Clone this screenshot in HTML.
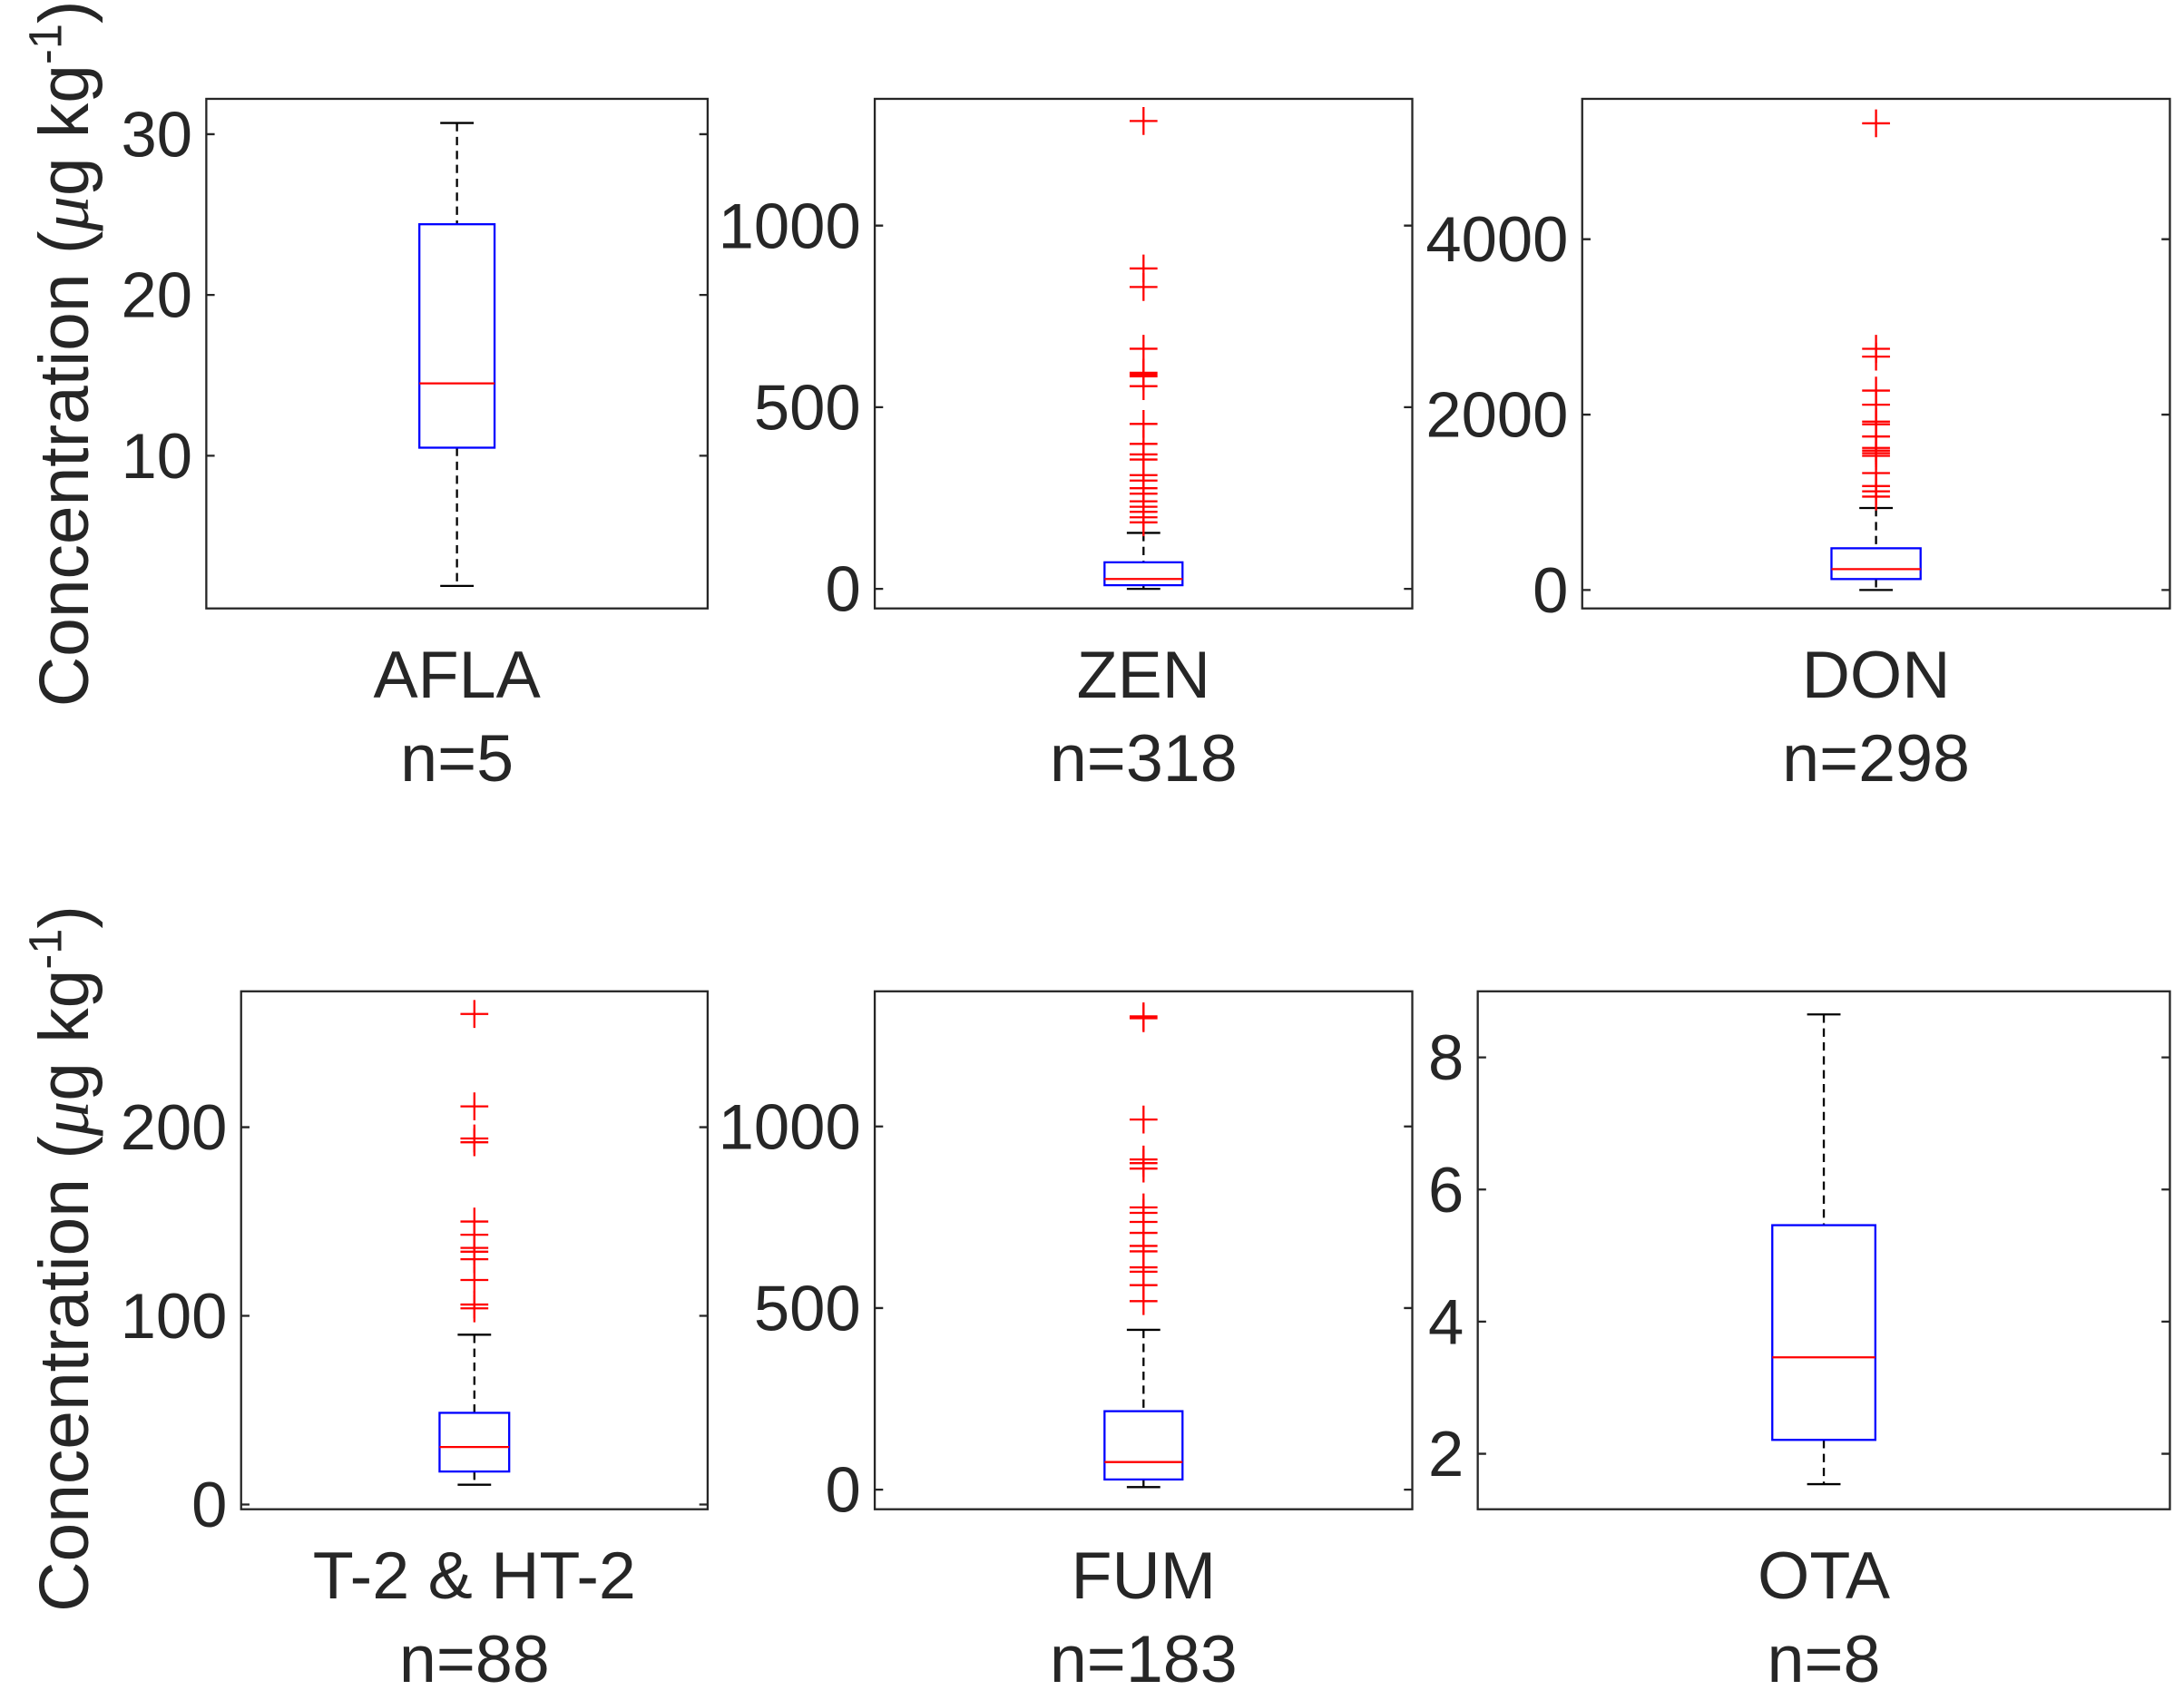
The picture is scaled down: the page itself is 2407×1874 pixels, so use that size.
<!DOCTYPE html>
<html><head><meta charset="utf-8"><style>
html,body{margin:0;padding:0;background:#fff;}
svg{display:block;}
text{font-family:"Liberation Sans",Arial,sans-serif;fill:#262626;}
</style></head><body>
<svg id="chart" width="2407" height="1874" viewBox="0 0 1568 1221" xmlns="http://www.w3.org/2000/svg"></svg>
<script>
const categories = ["AFLA","ZEN","DON","T-2 & HT-2","FUM","OTA"];
const sampleCounts = ["n=5","n=318","n=298","n=88","n=183","n=8"];
const whiskerLow = [1.9, 0, 0, 10.5, 7, 1.54];
const q1 = [10.5, 10, 125, 17.5, 28, 2.21];
const medians = [14.5, 27, 238, 30.5, 76, 3.46];
const q3 = [24.4, 73, 476, 48.6, 216, 5.46];
const whiskerHigh = [30.7, 154, 935, 90, 440, 8.65];
const outliersZEN = [1288,882,831,661,595,590,585,558,454,399,370,356,313,298,277,262,241,226,212,197,183];
const outliersDON = [5321,2750,2661,2274,2113,1920,1890,1750,1620,1590,1560,1530,1333,1185,1125,1065];
const outliersT2 = [260,211,194,192,150,143,136,134,130,119,106,104];
const outliersFUM = [1303,1298,1019,909,899,884,777,762,737,707,671,656,612,600,563,519];
const outliers = [[], outliersZEN, outliersDON, outliersT2, outliersFUM, []];
const yDomains = [[0.5,32.2],[-54,1349],[-210,5600],[-2.5,272],[-54,1372],[1.16,9.0]];
const yTicks = [[10,20,30],[0,500,1000],[0,2000,4000],[0,100,200],[0,500,1000],[2,4,6,8]];

// layout (not data)
const frames = [[148,71,508,437],[628,71,1014,437],[1136,71,1558,437],
                [173,712,508,1084],[628,712,1014,1084],[1061,712,1558,1084]];
const boxHalf = [27,28,32,25,28,37];
const NS="http://www.w3.org/2000/svg";
const svg=document.getElementById('chart');
function el(tag,attrs,parent){const e=document.createElementNS(NS,tag);for(const k in attrs)e.setAttribute(k,attrs[k]);(parent||svg).appendChild(e);return e;}

for(let i=0;i<6;i++){
  const [x0,y0,x1,y1]=frames[i];
  const [d0,d1]=yDomains[i];
  const yS=v=>y1-(v-d0)/(d1-d0)*(y1-y0);
  const cx=(x0+x1)/2;
  const g=el('g',{});
  
  
  const fr=el('rect',{x:x0,y:y0,width:x1-x0,height:y1-y0,fill:'none',stroke:'#262626','stroke-width':1.5},g);
  
  
  yTicks[i].forEach(t=>{
    const y=yS(t);
    const tl=el('path',{d:`M${x0} ${y}h6M${x1} ${y}h-6`,stroke:'#262626','stroke-width':1.5},g);
    
    
    const tx=el('text',{x:x0-10,y:y+16,'text-anchor':'end','font-size':46},g);
    tx.textContent=t;
    
    
  });
  const wl=el('path',{d:`M${cx} ${yS(whiskerHigh[i])}V${yS(q3[i])}M${cx} ${yS(q1[i])}V${yS(whiskerLow[i])}`,stroke:'#000','stroke-width':1.5,'stroke-dasharray':'6 4',fill:'none'},g);
  
  
  const caps=el('path',{d:`M${cx-12} ${yS(whiskerHigh[i])}h24M${cx-12} ${yS(whiskerLow[i])}h24`,stroke:'#000','stroke-width':1.5},g);
  
  
  const bx=el('rect',{x:cx-boxHalf[i],y:yS(q3[i]),width:2*boxHalf[i],height:yS(q1[i])-yS(q3[i]),fill:'none',stroke:'#0000ff','stroke-width':1.5},g);
  
  
  const md=el('line',{x1:cx-boxHalf[i],x2:cx+boxHalf[i],y1:yS(medians[i]),y2:yS(medians[i]),stroke:'#ff0000','stroke-width':1.5},g);
  
  
  outliers[i].forEach(v=>{
    const y=yS(v);
    const o=el('path',{d:`M${cx-10} ${y}h20M${cx} ${y-10}v20`,stroke:'#ff0000','stroke-width':1.5},g);
    
    
  });
  const c=el('text',{x:cx,y:y1+64,'text-anchor':'middle','font-size':48},g);
  c.textContent=categories[i];
  
  
  const n=el('text',{x:cx,y:y1+124,'text-anchor':'middle','font-size':48},g);
  n.textContent=sampleCounts[i];
  
  
}
[[254],[904]].forEach((p,r)=>{
  const t=el('text',{x:0,y:0,'text-anchor':'middle','font-size':50,transform:`translate(63,${p[0]}) rotate(-90)`});
  t.innerHTML='Concentration (<tspan font-style="italic" font-family="Liberation Serif">μ</tspan>g kg<tspan dy="-19" font-size="33">-1</tspan><tspan dy="19">)</tspan>';
  
  
});
</script>
</body></html>
